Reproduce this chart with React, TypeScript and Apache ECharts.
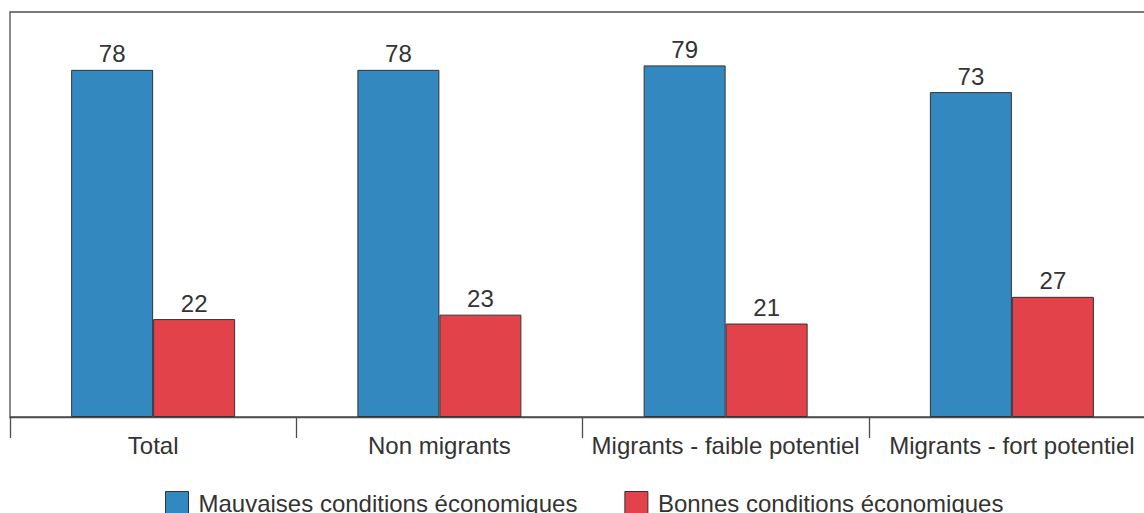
import React, { useEffect, useRef } from "react";
import * as echarts from "echarts";

const categories = [
  "Total",
  "Non migrants",
  "Migrants - faible potentiel",
  "Migrants - fort potentiel",
];
const seriesNames = [
  "Mauvaises conditions économiques",
  "Bonnes conditions économiques",
];
const mauvaises = [78, 78, 79, 73];
const bonnes = [22, 23, 21, 27];

const FONT = "'Liberation Sans', Arial, sans-serif";
const TEXT = "#333333";
const LINE = "#4d4d4d";
const BLUE = "#3388c0";
const RED = "#e2434a";

export default function App() {
  const ref = useRef<HTMLDivElement>(null);

  useEffect(() => {
    if (!ref.current) return;
    const chart = echarts.init(ref.current, undefined, { renderer: "svg" });

    const barLabel = {
      show: true,
      position: "top" as const,
      distance: 4,
      color: TEXT,
      fontSize: 24,
      fontFamily: FONT,
    };

    chart.setOption({
      animation: false,
      backgroundColor: "#ffffff",
      textStyle: { fontFamily: FONT },
      grid: {
        left: 10,
        right: 11,
        top: 12,
        bottom: 96,
        show: true,
        borderColor: LINE,
        borderWidth: 1.3,
      },
      legend: {
        left: 160,
        top: 486,
        padding: 5,
        itemWidth: 23,
        itemHeight: 23,
        itemGap: 47,
        icon: "rect",
        itemStyle: { borderColor: "#333333", borderWidth: 1 },
        textStyle: {
          color: TEXT,
          fontSize: 24,
          fontFamily: FONT,
          padding: [0, 0, 0, 5],
        },
        data: seriesNames,
      },
      xAxis: {
        type: "category",
        data: categories,
        boundaryGap: true,
        axisLine: { show: true, lineStyle: { color: LINE, width: 1.3 } },
        axisTick: {
          show: true,
          length: 21,
          lineStyle: { color: LINE, width: 1.3 },
        },
        axisLabel: {
          color: TEXT,
          fontSize: 24,
          fontFamily: FONT,
          margin: 16,
          interval: 0,
        },
      },
      yAxis: {
        type: "value",
        min: 0,
        max: 91,
        show: false,
        splitLine: { show: false },
      },
      series: [
        {
          name: seriesNames[0],
          type: "bar",
          data: mauvaises,
          barWidth: 82,
          barGap: "0%",
          itemStyle: { color: BLUE, borderColor: "#333333", borderWidth: 1 },
          label: barLabel,
        },
        {
          name: seriesNames[1],
          type: "bar",
          data: bonnes,
          barWidth: 82,
          barGap: "0%",
          itemStyle: { color: RED, borderColor: "#333333", borderWidth: 1 },
          label: barLabel,
        },
      ],
    });

    return () => chart.dispose();
  }, []);

  return (
    <div
      style={{
        position: "fixed",
        left: 0,
        top: 0,
        width: 1144,
        height: 513,
        overflow: "hidden",
        background: "#ffffff",
      }}
    >
      <div ref={ref} style={{ width: 1166, height: 513 }} />
    </div>
  );
}
